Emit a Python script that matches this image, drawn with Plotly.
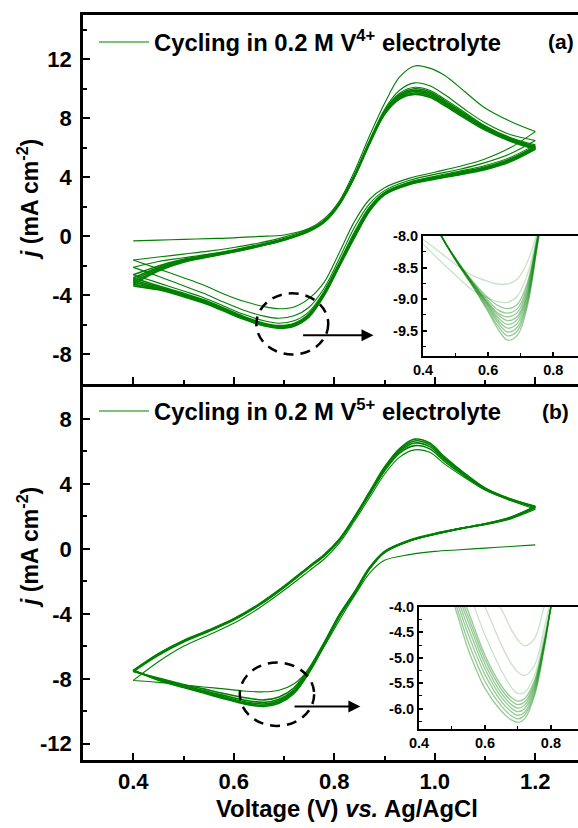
import plotly.graph_objects as go

# ---------------- data ----------------
V_AN = [0.40, 0.45, 0.50, 0.55, 0.60, 0.65, 0.70, 0.75, 0.78, 0.81, 0.84, 0.87, 0.90, 0.93, 0.96, 0.99, 1.02, 1.06, 1.10, 1.15, 1.20]
V_CA = [1.20, 1.15, 1.10, 1.05, 1.00, 0.95, 0.90, 0.87, 0.84, 0.81, 0.78, 0.75, 0.72, 0.69, 0.66, 0.62, 0.58, 0.54, 0.50, 0.45, 0.40]

# panel (a): V4+ electrolyte, anodic / cathodic scans per cycle
A_AN1 = [-0.30, -0.25, -0.20, -0.15, -0.10, 0.00, 0.10, 0.55, 1.20, 2.40, 4.40, 6.80, 9.00, 10.80, 11.55, 11.40, 10.90, 9.80, 8.70, 7.80, 7.10]
A_CA1 = [7.10, 6.00, 5.25, 4.75, 4.35, 3.95, 3.30, 2.50, 1.00, -1.10, -3.10, -4.20, -4.78, -4.90, -4.75, -4.40, -3.90, -3.30, -2.80, -2.20, -1.60]
A_AN2 = [-1.60, -1.40, -1.20, -1.00, -0.75, -0.45, -0.05, 0.50, 1.10, 2.30, 4.20, 6.50, 8.60, 9.90, 10.40, 10.20, 9.60, 8.60, 7.70, 6.90, 6.50]
A_CA2 = [6.50, 5.60, 5.00, 4.55, 4.20, 3.80, 3.10, 2.20, 0.60, -1.50, -3.50, -4.80, -5.38, -5.55, -5.40, -5.00, -4.45, -3.85, -3.35, -2.70, -2.10]
A_AN3 = [-2.10, -1.70, -1.45, -1.20, -0.90, -0.55, -0.15, 0.45, 1.05, 2.25, 4.15, 6.40, 8.50, 9.70, 10.10, 9.90, 9.30, 8.40, 7.50, 6.70, 6.20]
A_CA3 = [6.20, 5.35, 4.80, 4.42, 4.08, 3.68, 2.98, 2.00, 0.30, -1.75, -3.70, -5.10, -5.72, -5.88, -5.72, -5.28, -4.72, -4.15, -3.70, -3.15, -2.60]
A_AN4 = [-2.60, -2.00, -1.55, -1.25, -0.95, -0.60, -0.18, 0.42, 1.05, 2.25, 4.10, 6.40, 8.45, 9.60, 10.00, 9.80, 9.20, 8.30, 7.45, 6.65, 6.10]
A_CA4 = [6.10, 5.25, 4.70, 4.35, 4.02, 3.65, 2.95, 1.90, 0.15, -1.85, -3.80, -5.25, -5.90, -6.04, -5.88, -5.42, -4.85, -4.30, -3.85, -3.35, -2.80]
A_AN5 = [-2.80, -2.10, -1.60, -1.30, -0.98, -0.62, -0.20, 0.40, 1.03, 2.22, 4.08, 6.35, 8.40, 9.52, 9.90, 9.70, 9.10, 8.22, 7.38, 6.60, 6.05]
A_CA5 = [6.05, 5.20, 4.65, 4.30, 3.98, 3.62, 2.92, 1.85, 0.08, -1.90, -3.85, -5.31, -5.96, -6.09, -5.93, -5.47, -4.90, -4.36, -3.92, -3.43, -2.95]
A_AN6 = [-2.95, -2.20, -1.65, -1.33, -1.00, -0.64, -0.22, 0.38, 1.00, 2.20, 4.05, 6.32, 8.35, 9.45, 9.82, 9.62, 9.02, 8.15, 7.32, 6.55, 6.00]
A_CA6 = [6.00, 5.15, 4.60, 4.26, 3.95, 3.58, 2.88, 1.80, 0.02, -1.95, -3.90, -5.35, -6.00, -6.14, -5.98, -5.52, -4.96, -4.42, -3.98, -3.50, -3.10]
A_AN7 = [-3.10, -2.28, -1.70, -1.36, -1.03, -0.66, -0.24, 0.36, 0.98, 2.18, 4.02, 6.28, 8.30, 9.38, 9.72, 9.52, 8.95, 8.08, 7.26, 6.50, 5.95]
A_CA7 = [5.95, 5.10, 4.56, 4.22, 3.92, 3.55, 2.85, 1.75, -0.04, -2.00, -3.95, -5.40, -6.04, -6.18, -6.02, -5.57, -5.01, -4.47, -4.03, -3.56, -3.25]
A_AN8 = [-3.25, -2.35, -1.75, -1.40, -1.06, -0.68, -0.26, 0.34, 0.96, 2.15, 4.00, 6.25, 8.25, 9.30, 9.62, 9.42, 8.85, 8.00, 7.20, 6.45, 5.90]
A_CA8 = [5.90, 5.05, 4.52, 4.18, 3.88, 3.52, 2.82, 1.70, -0.10, -2.05, -4.00, -5.45, -6.08, -6.22, -6.06, -5.62, -5.06, -4.52, -4.08, -3.62, -3.35]

# panel (b): V5+ electrolyte (first scan is cathodic)
B_CA1 = [0.25, 0.15, 0.05, -0.05, -0.15, -0.35, -0.70, -1.50, -2.90, -4.40, -6.00, -7.40, -8.30, -8.70, -8.80, -8.75, -8.62, -8.50, -8.38, -8.22, -8.10]
B_AN1 = [-8.10, -6.95, -6.00, -5.30, -4.58, -3.65, -2.55, -1.35, -0.62, 0.35, 1.70, 3.15, 4.60, 5.65, 6.10, 5.95, 5.22, 4.38, 3.62, 2.98, 2.45]
B_CA2 = [2.45, 1.85, 1.50, 1.25, 0.95, 0.55, -0.15, -1.15, -2.65, -4.05, -5.75, -7.35, -8.55, -9.12, -9.30, -9.15, -8.90, -8.62, -8.35, -7.95, -7.55]
B_AN2 = [-7.55, -6.55, -5.74, -5.08, -4.38, -3.48, -2.38, -1.15, -0.44, 0.50, 1.85, 3.33, 4.80, 5.90, 6.36, 6.16, 5.38, 4.47, 3.66, 3.02, 2.55]
B_CA3 = [2.55, 1.90, 1.52, 1.25, 0.93, 0.52, -0.18, -1.18, -2.70, -4.10, -5.82, -7.46, -8.68, -9.26, -9.45, -9.30, -9.02, -8.72, -8.42, -8.00, -7.52]
B_AN3 = [-7.52, -6.50, -5.70, -5.05, -4.35, -3.45, -2.35, -1.12, -0.40, 0.55, 1.90, 3.40, 4.90, 6.00, 6.52, 6.30, 5.50, 4.55, 3.70, 3.05, 2.58]
B_CA4 = [2.58, 1.92, 1.53, 1.25, 0.92, 0.51, -0.20, -1.20, -2.73, -4.13, -5.87, -7.52, -8.76, -9.35, -9.55, -9.40, -9.10, -8.78, -8.46, -8.03, -7.50]
B_AN4 = [-7.50, -6.47, -5.67, -5.02, -4.32, -3.42, -2.32, -1.09, -0.37, 0.58, 1.94, 3.46, 4.98, 6.10, 6.65, 6.42, 5.58, 4.60, 3.73, 3.07, 2.60]
B_CA5 = [2.60, 1.93, 1.54, 1.25, 0.91, 0.50, -0.21, -1.22, -2.76, -4.16, -5.91, -7.57, -8.83, -9.43, -9.63, -9.47, -9.16, -8.83, -8.50, -8.06, -7.48]
B_AN5 = [-7.48, -6.45, -5.64, -5.00, -4.30, -3.40, -2.30, -1.07, -0.35, 0.60, 1.97, 3.51, 5.04, 6.18, 6.76, 6.52, 5.65, 4.64, 3.76, 3.09, 2.62]
B_CA6 = [2.62, 1.94, 1.55, 1.25, 0.90, 0.49, -0.22, -1.24, -2.79, -4.19, -5.95, -7.62, -8.90, -9.50, -9.70, -9.54, -9.22, -8.88, -8.54, -8.09, -7.46]

# inset (a)
VI_A = [0.40, 0.45, 0.50, 0.55, 0.60, 0.63, 0.66, 0.69, 0.72, 0.75, 0.78]
IA1 = [-8.05, -8.25, -8.45, -8.62, -8.72, -8.76, -8.76, -8.68, -8.42, -7.95, -7.40]
IA2 = [-8.12, -8.38, -8.62, -8.85, -8.98, -9.04, -9.05, -8.95, -8.62, -8.02, -7.40]
IA3 = [-7.30, -7.95, -8.35, -8.70, -8.98, -9.10, -9.15, -9.08, -8.75, -8.05, -7.25]
IA4 = [-7.30, -7.95, -8.36, -8.72, -9.02, -9.17, -9.22, -9.15, -8.80, -8.07, -7.25]
IA5 = [-7.28, -7.94, -8.36, -8.73, -9.05, -9.22, -9.28, -9.21, -8.85, -8.09, -7.24]
IA6 = [-7.28, -7.94, -8.37, -8.73, -9.07, -9.25, -9.34, -9.27, -8.90, -8.11, -7.23]
IA7 = [-7.27, -7.94, -8.37, -8.74, -9.09, -9.29, -9.40, -9.32, -8.94, -8.12, -7.23]
IA8 = [-7.26, -7.93, -8.37, -8.75, -9.11, -9.33, -9.46, -9.38, -8.98, -8.14, -7.22]
IA9 = [-7.25, -7.93, -8.38, -8.76, -9.14, -9.37, -9.52, -9.44, -9.03, -8.16, -7.21]
IA10 = [-7.24, -7.92, -8.38, -8.77, -9.17, -9.42, -9.58, -9.50, -9.07, -8.18, -7.20]
IA11 = [-7.23, -7.92, -8.39, -8.78, -9.20, -9.47, -9.65, -9.57, -9.12, -8.20, -7.19]

# inset (b)
VI_B = [0.45, 0.50, 0.55, 0.60, 0.65, 0.68, 0.70, 0.72, 0.75, 0.78, 0.80, 0.83]
IB1 = [-2.20, -2.70, -3.20, -3.65, -4.05, -4.45, -4.65, -4.76, -4.62, -3.98, -3.55, -2.90]
IB2 = [-2.20, -2.80, -3.40, -4.00, -4.75, -5.12, -5.28, -5.35, -5.15, -4.40, -3.85, -3.00]
IB3 = [-2.40, -3.00, -3.70, -4.55, -5.25, -5.58, -5.70, -5.68, -5.35, -4.55, -3.95, -3.05]
IB4 = [-2.60, -3.30, -4.10, -4.95, -5.55, -5.78, -5.85, -5.80, -5.45, -4.65, -4.00, -3.05]
IB5 = [-2.70, -3.40, -4.20, -5.03, -5.62, -5.85, -5.92, -5.87, -5.50, -4.68, -4.00, -3.05]
IB6 = [-2.80, -3.48, -4.30, -5.12, -5.70, -5.92, -5.99, -5.93, -5.55, -4.70, -4.00, -3.05]
IB7 = [-2.90, -3.56, -4.42, -5.22, -5.78, -5.99, -6.06, -6.00, -5.60, -4.73, -4.00, -3.05]
IB8 = [-3.00, -3.65, -4.55, -5.33, -5.86, -6.06, -6.13, -6.07, -5.65, -4.75, -4.00, -3.05]
IB9 = [-3.10, -3.75, -4.70, -5.46, -5.95, -6.14, -6.20, -6.13, -5.70, -4.78, -4.00, -3.05]
IB10 = [-3.20, -3.85, -4.85, -5.60, -6.05, -6.22, -6.27, -6.20, -5.75, -4.80, -4.00, -3.05]

# tick labels
X_TICKS = [0.4, 0.6, 0.8, 1.0, 1.2]
X_LABELS = ["0.4", "0.6", "0.8", "1.0", "1.2"]
YA_TICKS = [-8, -4, 0, 4, 8, 12]
YA_LABELS = ["-8", "-4", "0", "4", "8", "12"]
YB_TICKS = [-12, -8, -4, 0, 4, 8]
YB_LABELS = ["-12", "-8", "-4", "0", "4", "8"]
XI_TICKS = [0.4, 0.6, 0.8]
XI_LABELS = ["0.4", "0.6", "0.8"]
YIA_TICKS = [-9.5, -9.0, -8.5, -8.0]
YIA_LABELS = ["-9.5", "-9.0", "-8.5", "-8.0"]
YIB_TICKS = [-6.0, -5.5, -5.0, -4.5, -4.0]
YIB_LABELS = ["-6.0", "-5.5", "-5.0", "-4.5", "-4.0"]

LEG_A = "Cycling in 0.2 M V<sup>4+</sup> electrolyte"
LEG_B = "Cycling in 0.2 M V<sup>5+</sup> electrolyte"

# ---------------- figure ----------------
GREEN = "rgb(0,128,0)"
FONT = "Liberation Sans, Arial, sans-serif"

fig = go.Figure()

cycles_a = [(A_AN1, A_CA1), (A_AN2, A_CA2), (A_AN3, A_CA3), (A_AN4, A_CA4),
            (A_AN5, A_CA5), (A_AN6, A_CA6), (A_AN7, A_CA7), (A_AN8, A_CA8)]
for i, (an, ca) in enumerate(cycles_a):
    fig.add_trace(go.Scatter(
        x=V_AN + V_CA, y=an + ca, mode="lines",
        line=dict(color=GREEN, width=1.1 if i < 3 else 1.6, shape="spline", smoothing=0.9),
        xaxis="x", yaxis="y", name=LEG_A, legend="legend",
        showlegend=(i == 0), hoverinfo="skip"))

cycles_b = [(B_CA1, B_AN1), (B_CA2, B_AN2), (B_CA3, B_AN3), (B_CA4, B_AN4), (B_CA5, B_AN5)]
for i, (ca, an) in enumerate(cycles_b):
    fig.add_trace(go.Scatter(
        x=V_CA + V_AN, y=ca + an, mode="lines",
        line=dict(color=GREEN, width=1.1 if i < 1 else 1.6, shape="spline", smoothing=0.9),
        xaxis="x2", yaxis="y2", name=LEG_B, legend="legend2",
        showlegend=(i == 0), hoverinfo="skip"))
fig.add_trace(go.Scatter(
    x=V_CA, y=B_CA6, mode="lines",
    line=dict(color=GREEN, width=1.6, shape="spline", smoothing=0.9),
    xaxis="x2", yaxis="y2", showlegend=False, hoverinfo="skip"))

inset_a = [IA1, IA2, IA3, IA4, IA5, IA6, IA7, IA8, IA9, IA10, IA11]
for i, yy in enumerate(inset_a):
    op = 0.22 if i < 2 else 0.42
    fig.add_trace(go.Scatter(
        x=VI_A, y=yy, mode="lines",
        line=dict(color="rgba(0,128,0,%.2f)" % op, width=1.3, shape="spline", smoothing=1),
        xaxis="x3", yaxis="y3", showlegend=False, hoverinfo="skip"))

inset_b = [IB1, IB2, IB3, IB4, IB5, IB6, IB7, IB8, IB9, IB10]
for i, yy in enumerate(inset_b):
    op = 0.22 if i < 3 else 0.42
    fig.add_trace(go.Scatter(
        x=VI_B, y=yy, mode="lines",
        line=dict(color="rgba(0,128,0,%.2f)" % op, width=1.3, shape="spline", smoothing=1),
        xaxis="x4", yaxis="y4", showlegend=False, hoverinfo="skip"))

tickfont_main = dict(family=FONT, size=22, color="black", weight="bold")
tickfont_in = dict(family=FONT, size=14.5, color="black", weight="bold")

common_main = dict(showline=True, linewidth=2.5, linecolor="black", showgrid=False,
                   zeroline=False, ticks="inside", ticklen=7, tickwidth=2, tickcolor="black")
common_in = dict(showline=True, linewidth=2, linecolor="black", showgrid=False,
                 zeroline=False, ticks="inside", ticklen=4, tickwidth=1.5, tickcolor="black")

fig.update_layout(
    width=578, height=828,
    margin=dict(l=83, r=0, t=15, b=68),
    paper_bgcolor="white", plot_bgcolor="white",
    font=dict(family=FONT, color="black"),
    xaxis=dict(domain=[0, 1], anchor="y", range=[0.3, 1.285], mirror=True,
               tickvals=X_TICKS, ticktext=X_LABELS, showticklabels=False,
               minor=dict(ticks="inside", dtick=0.1, tick0=0.3, ticklen=4, tickwidth=1.5, tickcolor="black"),
               **common_main),
    yaxis=dict(domain=[0.5047, 1], anchor="x", range=[-10, 15],
               tickvals=YA_TICKS, ticktext=YA_LABELS, tickfont=tickfont_main, ticklabelstandoff=4,
               minor=dict(ticks="inside", dtick=2, tick0=0, ticklen=4, tickwidth=1.5, tickcolor="black"),
               **common_main),
    xaxis2=dict(domain=[0, 1], anchor="y2", range=[0.3, 1.285],
                tickvals=X_TICKS, ticktext=X_LABELS, tickfont=tickfont_main,
                minor=dict(ticks="inside", dtick=0.1, tick0=0.3, ticklen=4, tickwidth=1.5, tickcolor="black"),
                **common_main),
    yaxis2=dict(domain=[0, 0.5013], anchor="x2", range=[-13, 10],
                tickvals=YB_TICKS, ticktext=YB_LABELS, tickfont=tickfont_main, ticklabelstandoff=4,
                minor=dict(ticks="inside", dtick=2, tick0=0, ticklen=4, tickwidth=1.5, tickcolor="black"),
                **common_main),
    xaxis3=dict(domain=[(423 - 83) / 495, 1], anchor="y3", range=[0.4, 0.876], mirror=True,
                tickvals=XI_TICKS, ticktext=XI_LABELS, tickfont=tickfont_in,
                minor=dict(ticks="inside", dtick=0.1, tick0=0.4, ticklen=3, tickwidth=1, tickcolor="black"),
                **common_in),
    yaxis3=dict(domain=[(760 - 356) / 745, (760 - 236) / 745], anchor="x3", range=[-9.9, -8.0],
                tickvals=YIA_TICKS, ticktext=YIA_LABELS, tickfont=tickfont_in,
                minor=dict(ticks="inside", dtick=0.25, tick0=-8.0, ticklen=3, tickwidth=1, tickcolor="black"),
                **common_in),
    xaxis4=dict(domain=[(419 - 83) / 495, 1], anchor="y4", range=[0.4, 0.882], mirror=True,
                tickvals=XI_TICKS, ticktext=XI_LABELS, tickfont=tickfont_in,
                minor=dict(ticks="inside", dtick=0.1, tick0=0.4, ticklen=3, tickwidth=1, tickcolor="black"),
                **common_in),
    yaxis4=dict(domain=[(760 - 729) / 745, (760 - 607) / 745], anchor="x4", range=[-6.4, -4.0],
                tickvals=YIB_TICKS, ticktext=YIB_LABELS, tickfont=tickfont_in,
                minor=dict(ticks="inside", dtick=0.25, tick0=-4.0, ticklen=3, tickwidth=1, tickcolor="black"),
                **common_in),
    legend=dict(x=(94 - 83) / 495, y=(760 - 42) / 745, xanchor="left", yanchor="middle",
                bgcolor="rgba(0,0,0,0)", font=dict(family=FONT, size=23.8, weight="bold"),
                itemwidth=50, tracegroupgap=0),
    legend2=dict(x=(94 - 83) / 495, y=(760 - 411) / 745, xanchor="left", yanchor="middle",
                 bgcolor="rgba(0,0,0,0)", font=dict(family=FONT, size=23.8, weight="bold"),
                 itemwidth=50, tracegroupgap=0),
)

ann_font = dict(family=FONT, size=23, color="black", weight="bold")
fig.add_annotation(text="<i>j</i> (mA cm<sup>-2</sup>)", xref="paper", yref="paper",
                   x=(28 - 83) / 495, y=(760 - 200) / 745, textangle=-90, showarrow=False,
                   xanchor="center", yanchor="middle", font=ann_font)
fig.add_annotation(text="<i>j</i> (mA cm<sup>-2</sup>)", xref="paper", yref="paper",
                   x=(28 - 83) / 495, y=(760 - 548) / 745, textangle=-90, showarrow=False,
                   xanchor="center", yanchor="middle", font=ann_font)
fig.add_annotation(text="Voltage (V) <i>vs.</i> Ag/AgCl", xref="paper", yref="paper",
                   x=(347 - 83) / 495, y=(760 - 808) / 745, showarrow=False,
                   xanchor="center", yanchor="middle",
                   font=dict(family=FONT, size=23.8, color="black", weight="bold"))
fig.add_annotation(text="(a)", xref="paper", yref="paper", x=(561 - 83) / 495, y=(760 - 41) / 745,
                   showarrow=False, xanchor="center", yanchor="middle",
                   font=dict(family=FONT, size=21, color="black", weight="bold"))
fig.add_annotation(text="(b)", xref="paper", yref="paper", x=(555 - 83) / 495, y=(760 - 411) / 745,
                   showarrow=False, xanchor="center", yanchor="middle",
                   font=dict(family=FONT, size=21, color="black", weight="bold"))

# zoom markers
fig.add_shape(type="circle", xref="x", yref="y", x0=0.645, x1=0.788, y0=-8.0, y1=-3.86,
              line=dict(color="black", width=2.5, dash="10px,7px"))
fig.add_shape(type="circle", xref="x2", yref="y2", x0=0.612, x1=0.760, y0=-10.9, y1=-7.0,
              line=dict(color="black", width=2.5, dash="10px,7px"))
fig.add_annotation(xref="x", yref="y", axref="x", ayref="y", x=0.878, y=-6.7, ax=0.735, ay=-6.7,
                   text="", showarrow=True, arrowhead=2, arrowsize=1.2, arrowwidth=2, arrowcolor="black")
fig.add_annotation(xref="x2", yref="y2", axref="x2", ayref="y2", x=0.852, y=-9.7, ax=0.718, ay=-9.7,
                   text="", showarrow=True, arrowhead=2, arrowsize=1.2, arrowwidth=2, arrowcolor="black")

fig.write_html("out.html", config={"displayModeBar": False},
               post_script="document.body.style.margin='0px';document.body.style.overflow='hidden';")
